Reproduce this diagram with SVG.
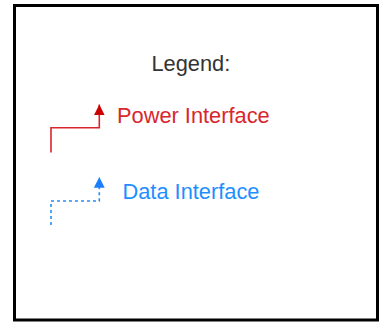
<svg xmlns="http://www.w3.org/2000/svg" width="380" height="322" viewBox="0 0 380 322">
  <defs>
    <style>
      .t { font-family: "Liberation Sans", Arial, sans-serif; font-size: 21.8px; }
      .pw { stroke: #d9262c; stroke-width: 1.6; fill: none; }
      .dt { stroke: #1e8fff; stroke-width: 1.6; fill: none; stroke-dasharray: 3 3; }
    </style>
    <marker id="ahR" markerWidth="12" markerHeight="12" refX="9" refY="4.5" orient="auto" markerUnits="userSpaceOnUse" viewBox="0 0 10 9">
      <path d="M0,0 L9,4.5 L0,9 Z" fill="#cc0000"/>
    </marker>
    <marker id="ahB" markerWidth="12" markerHeight="12" refX="9" refY="4.5" orient="auto" markerUnits="userSpaceOnUse" viewBox="0 0 10 9">
      <path d="M0,0 L9,4.5 L0,9 Z" fill="#1a7fff"/>
    </marker>
  </defs>
  <rect x="0" y="0" width="380" height="322" fill="#ffffff"/>
  <g id="frame">
    <rect x="14.5" y="5.5" width="363" height="314.5" fill="#ffffff" stroke="#000000" stroke-width="3"/>
  </g>
  <g id="title">
    <text class="t" x="151.5" y="71" fill="#333333">Legend:</text>
  </g>
  <g id="connectors">
    <path class="pw" d="M51,152.5 V127.7 H99.3 V104.5" marker-end="url(#ahR)"/>
    <path class="dt" d="M51,225 V201 H99.3 V177" marker-end="url(#ahB)"/>
  </g>
  <g id="power">
    <text class="t" x="117" y="123" fill="#d9262c">Power Interface</text>
  </g>
  <g id="data">
    <text class="t" x="122.5" y="199" fill="#1e8fff">Data Interface</text>
  </g>
</svg>
